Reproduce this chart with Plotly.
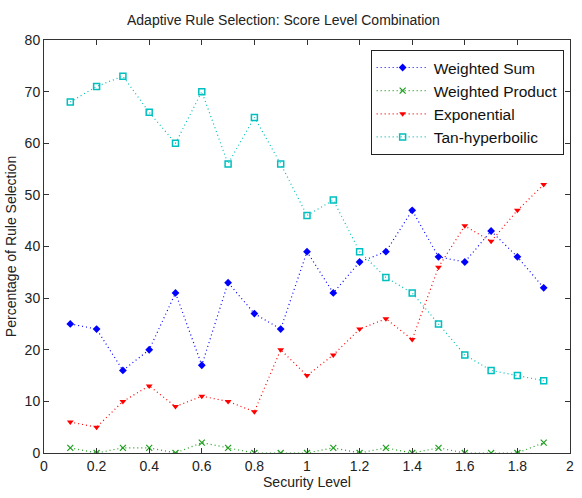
import plotly.graph_objects as go

x = [0.1, 0.2, 0.3, 0.4, 0.5, 0.6, 0.7, 0.8, 0.9, 1.0, 1.1, 1.2, 1.3, 1.4, 1.5, 1.6, 1.7, 1.8, 1.9]
weighted_sum = [25, 24, 16, 20, 31, 17, 33, 27, 24, 39, 31, 37, 39, 47, 38, 37, 43, 38, 32]
weighted_product = [1, 0, 1, 1, 0, 2, 1, 0, 0, 0, 1, 0, 1, 0, 1, 0, 0, 0, 2]
exponential = [6, 5, 10, 13, 9, 11, 10, 8, 20, 15, 19, 24, 26, 22, 36, 44, 41, 47, 52]
tan_hyp = [68, 71, 73, 66, 60, 70, 56, 65, 56, 46, 49, 39, 34, 31, 25, 19, 16, 15, 14]

x_ticks = [0, 0.2, 0.4, 0.6, 0.8, 1, 1.2, 1.4, 1.6, 1.8, 2]
x_tick_labels = ["0", "0.2", "0.4", "0.6", "0.8", "1", "1.2", "1.4", "1.6", "1.8", "2"]
y_ticks = [0, 10, 20, 30, 40, 50, 60, 70, 80]

series = [
    ("Weighted Sum", weighted_sum, "#0000ff", "diamond"),
    ("Weighted Product", weighted_product, "#1f9e1f", "x-thin"),
    ("Exponential", exponential, "#ff0000", "triangle-down"),
    ("Tan-hyperboilic", tan_hyp, "#00bfbf", "square-open"),
]

fig = go.Figure()
for name, ys, color, sym in series:
    marker = dict(symbol=sym, color=color, size=6)
    if sym == "x-thin":
        marker = dict(symbol=sym, color=color, size=6, line=dict(color=color, width=1.2))
    elif sym == "square-open":
        marker = dict(symbol=sym, color=color, size=6, line=dict(color=color, width=1.5))
    fig.add_trace(go.Scatter(
        x=x, y=ys, name=name, mode="lines+markers",
        line=dict(color=color, width=1.2, dash="1px,3px"),
        marker=marker,
    ))

font_family = "Liberation Sans, Arial, sans-serif"
fig.update_layout(
    width=582, height=498,
    margin=dict(l=44, r=8, t=40, b=45),
    paper_bgcolor="white", plot_bgcolor="white",
    font=dict(family=font_family, size=14, color="#222"),
    title=dict(text="Adaptive Rule Selection: Score Level Combination",
               x=0.487, xanchor="center", y=0.96, yanchor="middle",
               font=dict(size=14, color="#222")),
    showlegend=True,
    legend=dict(x=0.621, y=0.976, xanchor="left", yanchor="top",
                bordercolor="#222", borderwidth=1, bgcolor="white",
                font=dict(size=15.5, color="#111"), tracegroupgap=0,
                itemwidth=52),
    xaxis=dict(range=[0, 2], tickvals=x_ticks, ticktext=x_tick_labels,
               ticks="inside", ticklen=5, tickcolor="#333", showgrid=False,
               zeroline=False, showline=True, linecolor="#333", linewidth=1,
               mirror="allticks", tickfont=dict(size=14),
               title=dict(text="Security Level", standoff=2, font=dict(size=14))),
    yaxis=dict(range=[0, 80], tickvals=y_ticks,
               ticks="inside", ticklen=5, tickcolor="#333", showgrid=False,
               zeroline=False, showline=True, linecolor="#333", linewidth=1,
               mirror="allticks", tickfont=dict(size=14),
               title=dict(text="Percentage of Rule Selection", standoff=4, font=dict(size=14))),
)

fig.write_html("out.html")
